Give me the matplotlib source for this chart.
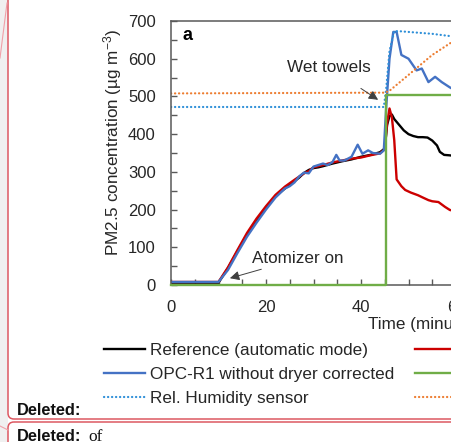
import matplotlib
matplotlib.use("Agg")
import matplotlib.pyplot as plt
from matplotlib.lines import Line2D
from matplotlib.patches import FancyBboxPatch, Rectangle
from matplotlib.ticker import MultipleLocator

plt.rcParams['font.family'] = ['Liberation Sans', 'DejaVu Sans']
plt.rcParams['mathtext.default'] = 'regular'

# time in minutes, PM2.5 in ug/m3
ref_t = [0, 10, 12, 14, 16, 18, 20, 22, 24, 26, 27, 28, 29, 30, 31, 32, 34, 36, 38, 40, 42, 44, 45,
         45.5, 46, 46.5, 47, 48, 49, 50, 51, 52, 53, 54, 55, 56, 56.6, 57.5, 58.5, 60, 62]
ref_v = [6, 6, 45, 90, 133, 170, 205, 236, 256, 275, 285, 297, 305, 310, 312, 315, 322, 328, 333, 340, 345, 352, 362,
         425, 448, 452, 440, 425, 410, 400, 395, 392, 392, 391, 383, 370, 353, 345, 344, 342, 340]

dry_t = [0, 10, 12, 14, 16, 18, 20, 22, 24, 26, 28, 29, 30, 32, 34, 36, 38, 40, 42, 44, 45, 45.5, 46, 46.5,
         47, 47.5, 48.5, 49.3, 50.5, 52, 53, 54.2, 55, 56.3, 57.7, 58.7, 60, 62]
dry_v = [8, 8, 47, 93, 138, 176, 209, 239, 261, 279, 296, 302, 312, 318, 325, 330, 335, 338, 344, 349, 360, 430, 468, 445,
         384, 280, 262, 252, 245, 238, 232, 225, 222, 220, 207, 199, 195, 190]

opc_t = [0, 10, 12, 14, 16, 18, 20, 22, 24, 25, 26, 27, 28, 29, 30, 31, 32, 33, 34, 34.8, 35.5, 36.5, 38, 39.3,
         40.3, 41.5, 42.5, 44, 44.8, 45.3, 46, 46.8, 47.5, 48.5, 50, 51.7, 52.8, 54.2, 55.6, 57, 58.7, 60, 62]
opc_v = [8, 8, 40, 85, 128, 165, 200, 232, 256, 262, 272, 288, 298, 296, 314, 318, 322, 318, 326, 345, 330, 330, 340, 372,
         348, 357, 350, 348, 357, 470, 600, 671, 671, 610, 600, 569, 574, 538, 552, 538, 524, 515, 505]

wet_t = [0, 45.2, 45.2, 70]
wet_v = [0, 0, 503, 503]

rh_t = [0, 44.8, 45.3, 46, 47, 48, 50, 55, 60, 65]
rh_v = [472, 472, 520, 620, 673, 673, 671, 666, 658, 650]

rh2_t = [0, 45, 46, 50, 55, 59, 62, 66]
rh2_v = [508, 510, 515, 557, 610, 643, 665, 690]

fig = plt.figure(figsize=(4.51, 4.42), dpi=100)

# page decorations (word comment boxes)
deco = fig.add_axes([0, 0, 1, 1], zorder=-1)
deco.set_xlim(0, 451)
deco.set_ylim(442, 0)
deco.axis('off')
red = '#dd5862'
deco.add_patch(Rectangle((0, 0), 7.5, 442, color='#f0f0f0', lw=0))
deco.add_patch(FancyBboxPatch((8, -30), 470, 449, boxstyle='round,pad=0,rounding_size=6',
                              fill=False, ec=red, lw=1.1))
deco.add_patch(FancyBboxPatch((8, 422), 470, 60, boxstyle='round,pad=0,rounding_size=6',
                              fill=False, ec=red, lw=1.1))
deco.plot([0, 7], [58, 3], color='#f0a0a8', lw=0.8)
deco.plot([0, 8], [426, 430], color='#f0a0a8', lw=0.8)
deco.text(17, 415, 'Deleted:', fontsize=11.8, fontweight='bold', va='baseline', color='#111111')
deco.text(17, 441, 'Deleted:', fontsize=11.8, fontweight='bold', va='baseline', color='#111111')
deco.text(88, 441, 'of', fontsize=12.5, family='Liberation Serif', va='baseline', color='#111111')

ax = fig.add_axes([171 / 451, 157 / 442, 475 / 451, 264 / 442])

dot = (0, (0.1, 1.7))
l_ref, = ax.plot(ref_t, ref_v, color='black', lw=1.7)
l_dry, = ax.plot(dry_t, dry_v, color='#cc0000', lw=1.7)
l_opc, = ax.plot(opc_t, opc_v, color='#4472c4', lw=1.7)
l_rh, = ax.plot(rh_t, rh_v, color='#2e8fd8', lw=1.6, ls=dot, dash_capstyle='round')
l_rh2, = ax.plot(rh2_t, rh2_v, color='#ed7d31', lw=1.6, ls=dot, dash_capstyle='round')
l_wet, = ax.plot(wet_t, wet_v, color='#70ad47', lw=1.7, clip_on=False, zorder=5)

ax.set_xlim(0, 100)
ax.set_ylim(0, 700)
ax.xaxis.set_major_locator(MultipleLocator(20))
ax.xaxis.set_minor_locator(MultipleLocator(5))
ax.yaxis.set_major_locator(MultipleLocator(100))
ax.yaxis.set_minor_locator(MultipleLocator(50))
spine_c = '#595959'
for s in ax.spines.values():
    s.set_color(spine_c)
    s.set_linewidth(1.1)
ax.tick_params(which='both', direction='in', length=4, width=1, color=spine_c,
               labelsize=12, labelcolor='#262626', pad=11)

ax.set_ylabel('PM2.5 concentration (µg m$^{-3}$)', fontsize=12.3, color='#262626', va='center')
ax.yaxis.set_label_coords((113 - 171) / 475, (285 - 143) / 264)
ax.set_xlabel('Time (minutes)', fontsize=12.3, color='#262626', ha='left', va='center')
ax.xaxis.set_label_coords((368 - 171) / 475, (285 - 325) / 264)

ax.text(2.5, 662, 'a', fontsize=13, fontweight='bold', va='center', ha='left')

ax.annotate('Wet towels', xy=(43.6, 491), xytext=(33.3, 577), fontsize=12.3, color='#262626',
            ha='center', va='center',
            arrowprops=dict(arrowstyle='-|>', color='#404040', lw=0.7, mutation_scale=14,
                            shrinkA=14, shrinkB=0, facecolor='black'))
ax.annotate('Atomizer on', xy=(12.4, 18), xytext=(26.6, 69), fontsize=12.3, color='#262626',
            ha='center', va='center',
            arrowprops=dict(arrowstyle='-|>', color='#404040', lw=0.7, mutation_scale=14,
                            shrinkA=36, shrinkB=0, facecolor='black'))

handles = [Line2D([], [], color='black', lw=1.7),
           Line2D([], [], color='#4472c4', lw=1.7),
           Line2D([], [], color='#2e8fd8', lw=1.6, ls=dot, dash_capstyle='round'),
           Line2D([], [], color='#cc0000', lw=1.7),
           Line2D([], [], color='#70ad47', lw=1.7),
           Line2D([], [], color='#ed7d31', lw=1.6, ls=dot, dash_capstyle='round')]
labels = ['Reference (automatic mode)', 'OPC-R1 without dryer corrected', 'Rel. Humidity sensor',
          'OPC-R1 with dryer', 'Wet towels', 'Rel. Humidity reference']
fig.legend(handles, labels, loc='upper left', bbox_to_anchor=(104 / 451, 1 - 343 / 442),
           ncol=2, frameon=False, fontsize=12.3, borderpad=0, borderaxespad=0,
           handlelength=2.4, handletextpad=0.3, columnspacing=1.2, labelspacing=0.52,
           labelcolor='#262626')

fig.savefig('out.png', dpi=100)
